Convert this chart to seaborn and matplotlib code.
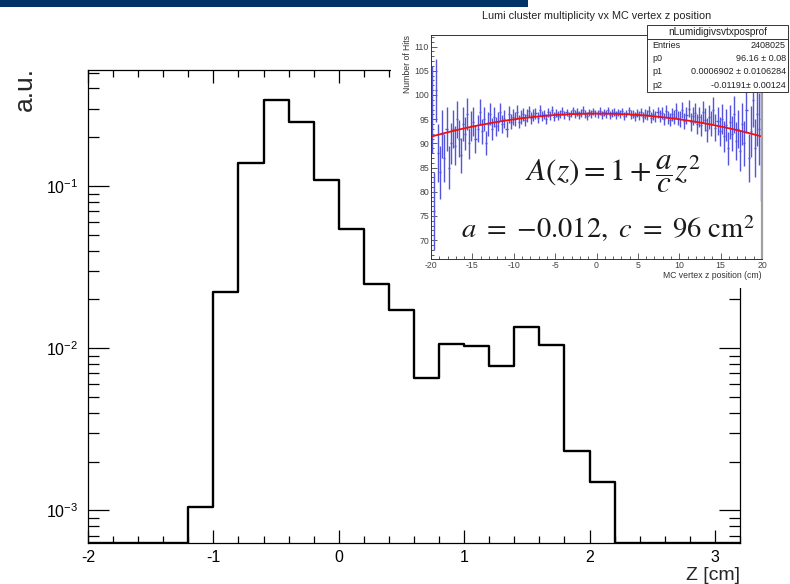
import numpy as np
import pandas as pd
import matplotlib
matplotlib.use("Agg")
import matplotlib.pyplot as plt
import seaborn as sns
from matplotlib.patches import Rectangle
from matplotlib.ticker import MultipleLocator, LogLocator, NullFormatter

# ---- main histogram: normalised z distribution (bin width 0.2 cm) ----
z_edges = [round(-2.0 + 0.2 * i, 2) for i in range(27)]
z_heights = [0, 0, 0, 0,
             0.00105, 0.0221, 0.138, 0.340, 0.249, 0.109,
             0.0543, 0.0248, 0.01734, 0.00659, 0.01059, 0.01029,
             0.00774, 0.01350, 0.01045, 0.00231, 0.00150,
             0, 0, 0, 0, 0]
x_ticks = [-2, -1, 0, 1, 2, 3]

# ---- inset: cluster multiplicity profile vs MC vertex z (0.25 cm bins) ----
prof_edges = np.arange(-20.0, 20.0001, 0.25)
prof_mean = [
    97.0, 76.0, 101.0, 88.0, 84.0, 92.0, 87.0, 93.0, 85.0, 90.0,
    93.0, 89.5, 95.0, 91.0, 87.5, 94.0, 92.0, 96.0, 90.0, 93.5,
    94.5, 91.0, 93.0, 96.5, 92.5, 95.0, 90.0, 94.0, 96.0, 93.0,
    95.5, 93.5, 94.5, 96.5, 94.0, 95.0, 93.0, 96.0, 94.5, 95.5,
    95.0, 96.5, 94.5, 95.5, 96.0, 94.8, 95.8, 96.6, 95.2, 95.9,
    96.2, 95.3, 96.8, 95.6, 96.0, 95.1, 96.4, 95.8, 96.9, 95.5,
    96.3, 95.7, 96.1, 96.7, 95.9, 96.4, 95.6, 96.2, 96.8, 96.0,
    96.5, 95.8, 96.3, 96.9, 96.1, 95.7, 96.4, 96.0, 96.6, 96.2,
    96.0, 96.7, 95.9, 96.4, 96.1, 96.8, 95.8, 96.3, 96.5, 95.9,
    96.4, 96.0, 96.6, 95.7, 96.2, 96.8, 95.9, 96.1, 95.6, 96.3,
    95.8, 96.5, 95.4, 96.1, 95.9, 96.7, 95.3, 96.0, 95.6, 96.4,
    95.7, 96.3, 95.0, 96.6, 95.4, 94.9, 96.0, 95.5, 96.8, 95.2,
    95.0, 96.9, 94.6, 95.8, 97.2, 94.4, 95.6, 96.3, 94.0, 95.4,
    93.8, 96.5, 94.9, 92.8, 95.5, 94.1, 96.8, 93.2, 94.7, 92.5,
    95.0, 91.5, 93.8, 89.0, 94.5, 92.0, 96.0, 90.5, 93.0, 88.5,
    94.0, 90.0, 97.0, 87.0, 92.5, 99.0, 89.0, 96.0, 93.0, 95.0,
]
prof_err = [
    9.0, 8.0, 6.5, 6.0, 5.5, 5.0, 5.0, 4.5, 4.5, 4.2,
    4.0, 4.0, 3.8, 3.8, 3.6, 3.5, 3.4, 3.3, 3.2, 3.1,
    3.0, 2.9, 2.8, 2.7, 2.6, 2.5, 2.5, 2.4, 2.3, 2.2,
    2.1, 2.0, 2.0, 1.9, 1.8, 1.8, 1.7, 1.7, 1.6, 1.6,
    1.5, 1.5, 1.4, 1.4, 1.3, 1.3, 1.3, 1.2, 1.2, 1.2,
    1.1, 1.1, 1.1, 1.0, 1.0, 1.0, 1.0, 0.9, 0.9, 0.9,
    0.9, 0.9, 0.8, 0.8, 0.8, 0.8, 0.8, 0.8, 0.8, 0.8,
    0.8, 0.8, 0.8, 0.8, 0.8, 0.8, 0.8, 0.8, 0.8, 0.8,
    0.8, 0.8, 0.8, 0.8, 0.8, 0.8, 0.8, 0.8, 0.8, 0.8,
    0.8, 0.8, 0.8, 0.8, 0.8, 0.8, 0.9, 0.9, 0.9, 0.9,
    0.9, 0.9, 1.0, 1.0, 1.0, 1.0, 1.1, 1.1, 1.1, 1.2,
    1.2, 1.2, 1.3, 1.3, 1.3, 1.4, 1.4, 1.5, 1.5, 1.5,
    1.6, 1.6, 1.7, 1.7, 1.8, 1.8, 1.9, 2.0, 2.0, 2.1,
    2.2, 2.3, 2.4, 2.5, 2.5, 2.6, 2.7, 2.8, 2.9, 3.0,
    3.1, 3.2, 3.3, 3.4, 3.5, 3.6, 3.8, 3.9, 4.0, 4.2,
    4.4, 4.6, 4.8, 5.0, 5.3, 5.6, 6.0, 6.5, 7.5, 17.0,
]
# pol2 fit parameters (value, error)
fit_p0 = (96.16, 0.08)
fit_p1 = (0.0006902, 0.0106284)
fit_p2 = (-0.01191, 0.00124)
n_entries = 2408025

W, H = 790, 584
def fx(px):
    return px / W
def fy(py):
    return 1 - py / H

sns.set_style("ticks")
plt.rcParams["font.family"] = ["Liberation Sans", "DejaVu Sans"]
plt.rcParams["mathtext.fontset"] = "custom"
plt.rcParams["mathtext.rm"] = "Liberation Sans"
plt.rcParams["mathtext.it"] = "Liberation Sans:italic"
plt.rcParams["mathtext.bf"] = "Liberation Sans:bold"

fig = plt.figure(figsize=(W / 100, H / 100), dpi=100)
fig.patch.set_facecolor("white")

# ---------------- main panel ----------------
Y_MIN, Y_MAX = 6.3e-4, 0.52
ax = fig.add_axes([fx(88), fy(543), fx(740) - fx(88), fy(70) - fy(543)])
centers = [(a + b) / 2 for a, b in zip(z_edges[:-1], z_edges[1:])]
df = pd.DataFrame({"z": centers, "w": np.clip(z_heights, Y_MIN, None)})
sns.histplot(data=df, x="z", weights="w", bins=z_edges, element="step",
             fill=False, color="black", linewidth=1.7, ax=ax)
ax.set_yscale("log")
ax.set_xlim(-2.0, 3.2)
ax.set_ylim(Y_MIN, Y_MAX)
ax.set_xlabel("")
ax.set_ylabel("")
ax.set_xticks(x_ticks)
ax.set_xticklabels([str(t) for t in x_ticks])
ax.xaxis.set_minor_locator(MultipleLocator(0.2))
ax.set_yticks([1e-3, 1e-2, 1e-1])
ax.set_yticklabels([r"$10^{\mathrm{-3}}$", r"$10^{\mathrm{-2}}$",
                    r"$10^{\mathrm{-1}}$"])
ax.yaxis.set_minor_locator(LogLocator(base=10, subs=np.arange(2, 10), numticks=20))
ax.yaxis.set_minor_formatter(NullFormatter())
for s in ax.spines.values():
    s.set_linewidth(0.9)
    s.set_color("black")
ax.tick_params(axis="both", which="both", direction="in", top=True, right=True,
               width=0.9, colors="black", labelsize=11.5)
ax.tick_params(axis="x", which="major", length=9.5, pad=5)
ax.tick_params(axis="x", which="minor", length=4.8)
ax.tick_params(axis="y", which="major", length=15, pad=7)
ax.tick_params(axis="y", which="minor", length=7.8)

fig.text(fx(25), fy(89), "a.u.", rotation=90, ha="center", va="center",
         fontsize=19)
fig.text(fx(740), fy(575), "Z [cm]", ha="right", va="center", fontsize=14)

# ---------------- inset panel ----------------
fig.patches.append(Rectangle((fx(391), fy(288)), fx(790) - fx(391),
                             fy(7) - fy(288), transform=fig.transFigure,
                             facecolor="white", edgecolor="none", zorder=1))

axi = fig.add_axes([fx(431), fy(259), fx(762) - fx(431), fy(35) - fy(259)],
                   zorder=2)
axi.set_facecolor("white")
pc = (prof_edges[:-1] + prof_edges[1:]) / 2
half_w = np.diff(prof_edges) / 2
axi.errorbar(pc, prof_mean, yerr=prof_err, xerr=half_w, fmt="none",
             ecolor="#5454dc", elinewidth=1.0)
zz = np.linspace(-20, 20, 200)
axi.plot(zz, fit_p0[0] + fit_p1[0] * zz + fit_p2[0] * zz ** 2,
         color="#f01010", linewidth=1.3)
axi.set_xlim(-20, 20)
axi.set_ylim(66.1, 112.4)
axi.xaxis.set_major_locator(MultipleLocator(5))
axi.xaxis.set_minor_locator(MultipleLocator(1))
axi.yaxis.set_minor_locator(MultipleLocator(1))
axi.yaxis.set_major_formatter(matplotlib.ticker.FormatStrFormatter("%d"))
axi.xaxis.set_major_formatter(matplotlib.ticker.FormatStrFormatter("%d"))
axi.set_yticks([70, 75, 80, 85, 90, 95, 100, 105, 110])
axi.tick_params(axis="both", which="both", direction="in", width=0.6,
                colors="#444444", labelsize=6.3, pad=1.5)
axi.tick_params(axis="both", which="major", length=4)
axi.tick_params(axis="both", which="minor", length=2)
for name, s in axi.spines.items():
    s.set_linewidth(0.7)
    s.set_color("#333333")
axi.spines["right"].set_color("#a0a0a0")
axi.spines["right"].set_linewidth(1.6)

fig.text(fx(597), fy(16), "Lumi cluster multiplicity vx MC vertex z position",
         ha="center", va="center", fontsize=7.8, color="#222222", zorder=3)
fig.text(fx(408), fy(35), "Number of Hits", rotation=90, ha="center", va="top",
         fontsize=6.2, color="#333333", zorder=3)
fig.text(fx(762), fy(276), "MC vertex z position (cm)", ha="right",
         va="center", fontsize=6.2, color="#333333", zorder=3)

# formula annotation
fig.text(fx(613), fy(174), r"$A(z) = 1 + \dfrac{a}{c}z^2$", ha="center",
         va="center", fontsize=22.5, math_fontfamily="stix", color="#1a1a1a",
         zorder=4)
fig.text(fx(608), fy(229), r"$a\ =\ {-0.012},\ c\ =\ 96\ \mathrm{cm}^2$",
         ha="center", va="center", fontsize=20.5, math_fontfamily="stix",
         color="#1a1a1a", zorder=4)

# stats box
bx0, bx1, by0, by1 = 647, 788, 25, 92
fig.patches.append(Rectangle((fx(bx0), fy(by1)), fx(bx1) - fx(bx0),
                             fy(by0) - fy(by1), transform=fig.transFigure,
                             facecolor="white", edgecolor="#333333",
                             linewidth=0.7, zorder=5))
fig.add_artist(plt.Line2D([fx(bx0), fx(bx1)], [fy(39), fy(39)],
                          transform=fig.transFigure, color="#333333",
                          linewidth=0.7, zorder=6))
fig.text(fx((bx0 + bx1) / 2), fy(32), "nLumidigivsvtxposprof", ha="center",
         va="center", fontsize=7.2, color="#222222", zorder=6)
rows = [("Entries", f"{n_entries}"),
        ("p0", f"{fit_p0[0]:.2f} \u00b1 {fit_p0[1]:.2f}"),
        ("p1", f"{fit_p1[0]:.7f} \u00b1 {fit_p1[1]:.7f}"),
        ("p2", f"{fit_p2[0]:.5f}\u00b1 {fit_p2[1]:.5f}")]
for (lab, val), yy in zip(rows, [45.7, 58.7, 72, 85.7]):
    fig.text(fx(652), fy(yy), lab, ha="left", va="center", fontsize=6.5,
             color="#222222", zorder=6)
    fig.text(fx(786), fy(yy), val, ha="right", va="center", fontsize=6.5,
             color="#222222", zorder=6)

# header bar
fig.patches.append(Rectangle((0, fy(7)), fx(528), fy(0) - fy(7),
                             transform=fig.transFigure, facecolor="#003366",
                             edgecolor="none", zorder=7))

fig.savefig("out.png", dpi=100)
